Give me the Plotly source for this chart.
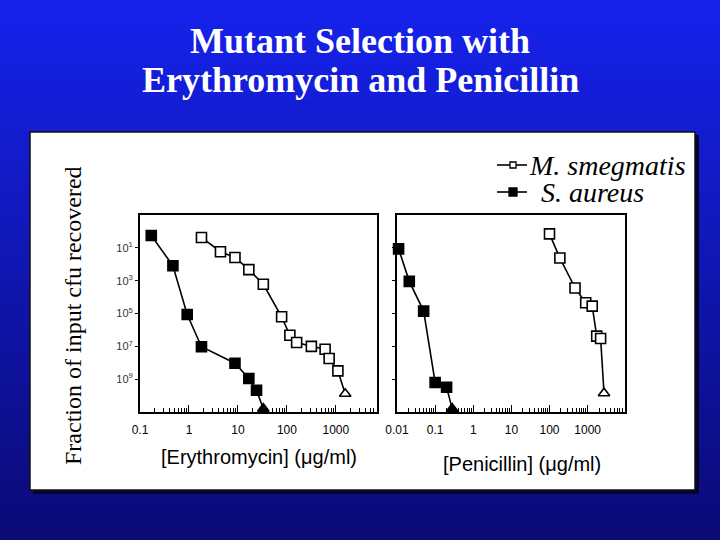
import plotly.graph_objects as go

# Erythromycin panel (ug/ml, fraction of input cfu recovered)
ery_smeg_conc = [1.8, 4.4, 8.7, 16.7, 33, 78, 115, 158, 316, 603, 729, 1100, 1550]
ery_smeg_frac = [0.43, 0.058, 0.026, 4.7e-3, 6.0e-4, 6.3e-6, 4.7e-7, 1.7e-7,
                 1.0e-7, 6.6e-8, 1.8e-8, 3.2e-9, 1.3e-10]
ery_saur_conc = [0.17, 0.47, 0.92, 1.8, 8.7, 16.7, 24, 33]
ery_saur_frac = [0.56, 8.1e-3, 8.7e-6, 9.5e-8, 9.3e-9, 1.1e-9, 2.1e-10, 1.6e-11]

# Penicillin panel
pen_smeg_conc = [100, 187, 467, 890, 1320, 1730, 2190, 2690]
pen_smeg_frac = [0.71, 0.024, 3.6e-4, 4.5e-5, 2.8e-5, 4.2e-7, 3.0e-7, 1.4e-10]
pen_saur_conc = [0.011, 0.021, 0.05, 0.1, 0.2, 0.28]
pen_saur_frac = [0.087, 9.1e-4, 1.4e-5, 6.3e-10, 3.2e-10, 1.6e-11]

# last point of every series is below detection (drawn as triangle)
ery_ticks = [0.1, 1, 10, 100, 1000]
pen_ticks = [0.01, 0.1, 1, 10, 100, 1000]
y_ticks = [1e-1, 1e-3, 1e-5, 1e-7, 1e-9]
y_ticktext = ["10<sup>1</sup>", "10<sup>3</sup>", "10<sup>5</sup>",
              "10<sup>7</sup>", "10<sup>9</sup>"]

W, H = 720, 540


def px(x0, x1, y0, y1):
    # pixel box -> paper coordinates
    return dict(x0=x0 / W, x1=x1 / W, y0=1 - y1 / H, y1=1 - y0 / H)


def series(x, y, filled, xa):
    n = len(x)
    symbols = ["square"] * (n - 1) + ["triangle-up"]
    fill = "black" if filled else "white"
    return go.Scatter(
        x=x, y=y, xaxis=xa, yaxis=xa.replace("x", "y"),
        mode="lines+markers", cliponaxis=False, showlegend=False,
        line=dict(color="black", width=1.6),
        marker=dict(symbol=symbols, size=10, color=fill,
                    line=dict(color="black", width=1.6)),
    )


fig = go.Figure()
fig.add_trace(series(ery_smeg_conc, ery_smeg_frac, False, "x"))
fig.add_trace(series(ery_saur_conc, ery_saur_frac, True, "x"))
fig.add_trace(series(pen_smeg_conc, pen_smeg_frac, False, "x2"))
fig.add_trace(series(pen_saur_conc, pen_saur_frac, True, "x2"))

shapes = []
# blue gradient background in bands
top, bottom = (22, 34, 236), (10, 10, 118)
nb = 54
for i in range(nb):
    t = i / (nb - 1)
    c = tuple(int(round(a + (b - a) * t)) for a, b in zip(top, bottom))
    shapes.append(dict(type="rect", xref="paper", yref="paper", layer="below",
                       line=dict(width=0), fillcolor="rgb(%d,%d,%d)" % c,
                       **px(0, W, i * H / nb, (i + 1) * H / nb + 1)))
# shadow + white panel
shapes.append(dict(type="rect", xref="paper", yref="paper", layer="below",
                   line=dict(width=0), fillcolor="#03032e", **px(33, 699, 135, 494)))
shapes.append(dict(type="rect", xref="paper", yref="paper", layer="below",
                   line=dict(width=1.5, color="#101010"), fillcolor="white",
                   **px(30, 695, 132, 490)))

# legend samples
for ly, fill, sz in [(165, "white", 6), (192, "black", 8)]:
    shapes.append(dict(type="line", xref="paper", yref="paper",
                       line=dict(color="black", width=1.6), **px(497, 527, ly, ly)))
    shapes.append(dict(type="rect", xref="paper", yref="paper",
                       line=dict(color="black", width=1.3), fillcolor=fill,
                       **px(513 - sz / 2, 513 + sz / 2, ly - sz / 2, ly + sz / 2)))

tick_font = dict(family="Arial", size=12, color="black")
common_x = dict(type="log", showline=True, linewidth=2, linecolor="black",
                mirror=True, ticks="inside", ticklen=7, tickwidth=1.2,
                tickcolor="black", showgrid=False, zeroline=False,
                automargin=False,
                tickmode="array", tickfont=tick_font, ticklabelstandoff=6)
common_y = dict(type="log", showline=True, linewidth=2, linecolor="black",
                mirror=True, ticks="outside", ticklen=3, tickcolor="black",
                showgrid=False, zeroline=False, tickmode="array",
                automargin=False,
                tickvals=y_ticks, range=[-11, 1],
                tickfont=dict(family="Arial", size=11, color="#333333"))

ery_minor = [m * 10.0 ** e for e in range(-1, 4) for m in range(2, 10)]
pen_minor = [m * 10.0 ** e for e in range(-2, 4) for m in range(2, 10)]

serif = "Liberation Serif"
fig.update_layout(
    width=W, height=H, autosize=False,
    margin=dict(l=0, r=0, t=0, b=0, pad=0, autoexpand=False),
    paper_bgcolor="#0a0a80", plot_bgcolor="white",
    shapes=shapes,
    xaxis=dict(common_x, domain=[140 / W, 377 / W], range=[-1, 3.84],
               tickvals=ery_ticks, ticktext=["0.1", "1", "10", "100", "1000"],
               minor=dict(tickmode="array", tickvals=ery_minor, ticks="inside",
                          ticklen=4, tickcolor="black", showgrid=False),
               anchor="y"),
    yaxis=dict(common_y, domain=[1 - 412 / H, 1 - 215 / H],
               ticktext=y_ticktext, anchor="x"),
    xaxis2=dict(common_x, domain=[397 / W, 625 / W], range=[-2, 3.98],
                tickvals=pen_ticks,
                ticktext=["0.01", "0.1", "1", "10", "100", "1000"],
                minor=dict(tickmode="array", tickvals=pen_minor, ticks="inside",
                           ticklen=4, tickcolor="black", showgrid=False),
                anchor="y2"),
    yaxis2=dict(common_y, domain=[1 - 412 / H, 1 - 215 / H],
                showticklabels=False, anchor="x2"),
    annotations=[
        dict(text="<b>Mutant Selection with</b>",
             x=0.5, y=1 - 41 / H, xref="paper", yref="paper", showarrow=False,
             xanchor="center", yanchor="middle",
             font=dict(family=serif, size=36, color="white")),
        dict(text="<b>Erythromycin and Penicillin</b>",
             x=0.5, y=1 - 80 / H, xref="paper", yref="paper", showarrow=False,
             xanchor="center", yanchor="middle",
             font=dict(family=serif, size=36, color="white")),
        dict(text="Fraction of input cfu recovered", textangle=-90,
             x=73 / W, y=1 - 316 / H, xref="paper", yref="paper",
             showarrow=False, xanchor="center", yanchor="middle",
             font=dict(family=serif, size=24, color="black")),
        dict(text="[Erythromycin] (μg/ml)", x=259 / W, y=1 - 457 / H,
             xref="paper", yref="paper", showarrow=False,
             xanchor="center", yanchor="middle",
             font=dict(family="Arial", size=20, color="black")),
        dict(text="[Penicillin] (μg/ml)", x=522 / W, y=1 - 464 / H,
             xref="paper", yref="paper", showarrow=False,
             xanchor="center", yanchor="middle",
             font=dict(family="Arial", size=20, color="black")),
        dict(text="<i>M. smegmatis</i>", x=527 / W, y=1 - 166 / H,
             xref="paper", yref="paper", showarrow=False,
             xanchor="left", yanchor="middle",
             font=dict(family=serif, size=28, color="black")),
        dict(text="<i>S. aureus</i>", x=539 / W, y=1 - 192 / H,
             xref="paper", yref="paper", showarrow=False,
             xanchor="left", yanchor="middle",
             font=dict(family=serif, size=28, color="black")),
    ],
)

# page body has a default 8px margin; drop it so the slide fills the window
fig.write_html("out.html", config={"displayModeBar": False},
               post_script="document.body.style.margin = '0';")
